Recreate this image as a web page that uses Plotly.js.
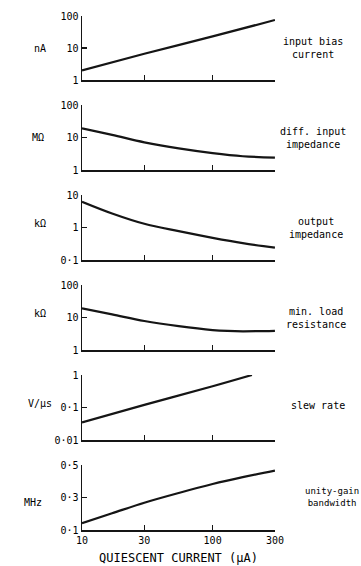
<!DOCTYPE html>
<html>
<head>
<meta charset="utf-8">
<script src="https://cdn.plot.ly/plotly-3.0.1.min.js"></script>
<style>html,body{margin:0;padding:0;background:#fff;}#chart{width:361px;height:566px;}</style>
</head>
<body>
<div id="chart"></div>
<script>
// Quiescent current (µA)
const xTicks = [10, 30, 100, 300];
const xTickText = ["10", "30", "100", "300"];

// Panel 1: input bias current (nA)
const biasX = [10, 30, 100, 300];
const biasY = [2.0, 6.6, 23, 75];
// Panel 2: diff. input impedance (MΩ)
const zinX = [10, 17, 30, 55, 100, 170, 300];
const zinY = [19, 12.0, 7.1, 4.6, 3.3, 2.65, 2.4];
// Panel 3: output impedance (kΩ)
const zoutX = [10, 17, 30, 55, 100, 170, 300];
const zoutY = [6.2, 2.7, 1.3, 0.77, 0.48, 0.33, 0.24];
// Panel 4: min. load resistance (kΩ)
const rloadX = [10, 17, 30, 55, 100, 130, 170, 300];
const rloadY = [19.2, 12.5, 7.8, 5.4, 4.1, 3.85, 3.76, 3.9];
// Panel 5: slew rate (V/µs)
const slewX = [10, 30, 100, 200];
const slewY = [0.035, 0.12, 0.45, 1.0];
// Panel 6: unity-gain bandwidth (MHz)
const gbwX = [10, 17, 30, 55, 100, 170, 300];
const gbwY = [0.142, 0.203, 0.268, 0.328, 0.383, 0.425, 0.465];

const panels = [
  {x: biasX, y: biasY, type: "log", range: [0, 2], tv: [1, 10, 100], tt: ["1", "10", "100"], unit: "nA", label: "input bias<br>current"},
  {x: zinX, y: zinY, type: "log", range: [0, 2], tv: [1, 10, 100], tt: ["1", "10", "100"], unit: "MΩ", label: "diff. input<br>impedance"},
  {x: zoutX, y: zoutY, type: "log", range: [-1, 1], tv: [0.1, 1, 10], tt: ["0·1", "1", "10"], unit: "kΩ", label: "output<br>impedance"},
  {x: rloadX, y: rloadY, type: "log", range: [0, 2], tv: [1, 10, 100], tt: ["1", "10", "100"], unit: "kΩ", label: "min. load<br>resistance"},
  {x: slewX, y: slewY, type: "log", range: [-2, 0], tv: [0.01, 0.1, 1], tt: ["0·01", "0·1", "1"], unit: "V/µs", label: "slew rate"},
  {x: gbwX, y: gbwY, type: "linear", range: [0.1, 0.5], tv: [0.1, 0.3, 0.5], tt: ["0·1", "0·3", "0·5"], unit: "MHz", label: "unity-gain<br>bandwidth"}
];

// pixel geometry (top, bottom of each plot area), page 361x566
const W = 361, H = 566;
const pxTop = [16, 105, 195, 285, 375, 465];
const pxBot = [80, 170, 260, 350, 440, 530];
const pxLeft = 82, pxRight = 275;
const unitX = [40, 38, 40, 40, 40, 33];
const unitY = [48, 138, 223, 313, 403, 502];
const labX = [313, 313, 316, 316, 318, 332];
const labY = [48, 138, 228, 318, 405, 497];
const labSize = [10, 10, 10, 10, 10, 9];

const FONT = "DejaVu Sans Mono, monospace";
const INK = "#000000";

const data = [];
const layout = {
  width: W, height: H,
  margin: {l: 0, r: 0, t: 0, b: 0},
  paper_bgcolor: "#fff", plot_bgcolor: "#fff",
  showlegend: false,
  font: {family: FONT, size: 10, color: INK},
  annotations: []
};

panels.forEach((p, i) => {
  const n = i + 1;
  const xa = "x" + (n === 1 ? "" : n);
  const ya = "y" + (n === 1 ? "" : n);
  data.push({
    x: p.x, y: p.y, xaxis: xa, yaxis: ya,
    type: "scatter", mode: "lines",
    line: {color: "#151515", width: 2.2, shape: "spline", smoothing: 1.0},
    hoverinfo: "skip"
  });
  const last = (n === panels.length);
  layout["xaxis" + (n === 1 ? "" : n)] = {
    type: "log", range: [1, Math.log10(300) + 0.0005],
    domain: [pxLeft / W, pxRight / W],
    anchor: ya,
    showline: true, linecolor: "#151515", linewidth: 1.5,
    showgrid: false, zeroline: false,
    ticks: "inside", ticklen: 5, tickwidth: 1.3, tickcolor: "#151515",
    tickmode: "array", tickvals: xTicks, ticktext: xTickText,
    showticklabels: last,
    tickfont: {family: FONT, size: 10, color: INK},
    title: last ? {text: "QUIESCENT CURRENT (µA)", font: {family: FONT, size: 12, color: INK}, standoff: 9} : undefined
  };
  layout["yaxis" + (n === 1 ? "" : n)] = {
    type: p.type,
    range: p.range,
    domain: [1 - pxBot[i] / H, 1 - pxTop[i] / H],
    anchor: xa,
    showline: true, linecolor: "#151515", linewidth: 1.5,
    showgrid: false, zeroline: false,
    ticks: "inside", ticklen: 5, tickwidth: 1.3, tickcolor: "#151515",
    tickmode: "array", tickvals: p.tv, ticktext: p.tt,
    tickfont: {family: FONT, size: 10, color: INK}
  };
  layout.annotations.push({
    xref: "paper", yref: "paper", x: unitX[i] / W, y: 1 - unitY[i] / H,
    xanchor: "center", yanchor: "middle", showarrow: false,
    text: p.unit, font: {family: FONT, size: 10, color: INK}
  });
  layout.annotations.push({
    xref: "paper", yref: "paper", x: labX[i] / W, y: 1 - labY[i] / H,
    xanchor: "center", yanchor: "middle", showarrow: false, align: "center",
    text: p.label, font: {family: FONT, size: labSize[i], color: INK}
  });
});

Plotly.newPlot("chart", data, layout, {staticPlot: true, displayModeBar: false});
</script>
</body>
</html>
